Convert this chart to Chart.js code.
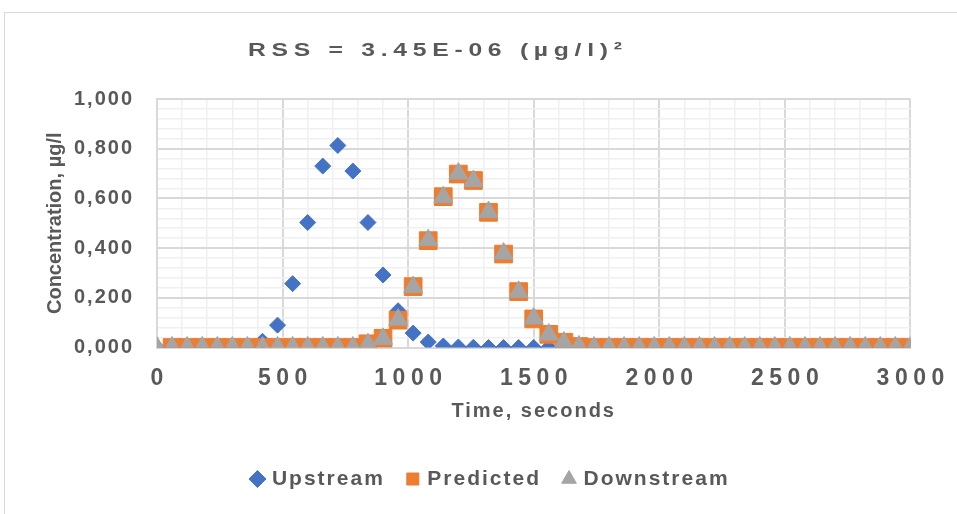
<!DOCTYPE html>
<html>
<head>
<meta charset="utf-8">
<title>RSS chart</title>
<script src="https://cdn.jsdelivr.net/npm/chart.js@4.4.1/dist/chart.umd.min.js"></script>
<style>
  html, body { margin: 0; padding: 0; background: #fff; overflow: hidden; }
  #frame { position: absolute; left: 4px; top: 12px; width: 1000px; height: 600px;
           border-left: 1px solid #d9d9d9; border-top: 1px solid #d9d9d9; }
  #chart { position: absolute; left: 0; top: 0; }
</style>
</head>
<body>
<div id="frame"></div>
<canvas id="chart" width="957" height="514"></canvas>
<script>
// Data
const titleText = "RSS = 3.45E-06 (\u00b5g/l)\u00b2";

// Time, seconds
const times = [0, 60, 120, 180, 240, 300, 360, 420, 480, 540,
               600, 660, 720, 780, 840, 900, 960, 1020, 1080, 1140,
               1200, 1260, 1320, 1380, 1440, 1500, 1560, 1620, 1680, 1740,
               1800, 1860, 1920, 1980, 2040, 2100, 2160, 2220, 2280, 2340,
               2400, 2460, 2520, 2580, 2640, 2700, 2760, 2820, 2880, 2940, 3000];

// Concentration, µg/l
const upstream = [0, 0, 0, 0, 0, 0, 0, 0.025, 0.09, 0.257,
                  0.503, 0.73, 0.813, 0.71, 0.503, 0.292, 0.148, 0.058, 0.022, 0.006,
                  0.002, 0.001, 0, 0, 0, 0, 0, 0, 0, 0,
                  0, 0, 0, 0, 0, 0, 0, 0, 0, 0,
                  0, 0, 0, 0, 0, 0, 0, 0, 0, 0, 0];

const predicted = [null, 0, 0, 0, 0, 0, 0, 0, 0, 0,
                   0, 0, 0, 0, 0.015, 0.037, 0.11, 0.245, 0.43, 0.607,
                   0.698, 0.672, 0.544, 0.376, 0.225, 0.115, 0.053, 0.021, 0.004, 0,
                   0, 0, 0, 0, 0, 0, 0, 0, 0, 0,
                   0, 0, 0, 0, 0, 0, 0, 0, 0, 0, 0];

const downstream = [0, 0, 0, 0, 0, 0, 0, 0, 0, 0,
                    0, 0, 0, 0, 0.013, 0.035, 0.112, 0.243, 0.432, 0.605,
                    0.7, 0.67, 0.545, 0.378, 0.224, 0.117, 0.052, 0.02, 0.004, 0,
                    0, 0, 0, 0, 0, 0, 0, 0, 0, 0,
                    0, 0, 0, 0, 0, 0, 0, 0, 0, 0, 0];

// Labelled (major) ticks
const xMajor = [0, 500, 1000, 1500, 2000, 2500, 3000];
const yMajor = [0, 0.2, 0.4, 0.6, 0.8, 1];

const TEXT = "#595959";
const FONT = "'Liberation Sans', Arial, sans-serif";
const MAJOR = "#d9d9d9";
const MINOR = "#f0f0f0";

const isMajorX = v => xMajor.includes(v);
const isMajorY = v => yMajor.some(m => Math.abs(m - v) < 1e-9);

function pts(values) {
    return times.map((t, i) => ({ x: t, y: values[i] })).filter(p => p.y !== null);
}

// Excel-like expanded character spacing on some texts
const textSpacing = {
    id: "textSpacing",
    beforeLayout(chart) {
        chart.ctx.letterSpacing = "2px";
    },
    beforeDraw(chart) {
        chart.ctx.letterSpacing = "2px";
        const { x, y } = chart.scales;
        if (!x._spaced) {
            const drawLabels = x.drawLabels;
            x.drawLabels = function (area) {
                this.ctx.save();
                this.ctx.letterSpacing = "5.5px";
                this.ctx.translate(2.75, 0);
                drawLabels.call(this, area);
                this.ctx.restore();
            };
            x._spaced = true;
        }
        if (!y._spaced) {
            const drawTitle = y.drawTitle;
            y.drawTitle = function () {
                this.ctx.save();
                this.ctx.letterSpacing = "0px";
                drawTitle.call(this);
                this.ctx.restore();
            };
            y._spaced = true;
        }
    }
};

// Chart title, stretched and spaced out like the original
const rssTitle = {
    id: "rssTitle",
    afterDraw(chart) {
        const ctx = chart.ctx;
        ctx.save();
        ctx.translate(435, 51);
        ctx.scale(1.3, 1);
        ctx.letterSpacing = "4.4px";
        ctx.font = "bold 19px " + FONT;
        ctx.fillStyle = TEXT;
        ctx.textAlign = "center";
        ctx.textBaseline = "middle";
        ctx.fillText(titleText, 2.2, 0);
        ctx.restore();
    }
};

const ctx = document.getElementById("chart");
new Chart(ctx, {
    type: "scatter",
    data: {
        datasets: [
            {
                label: "Upstream", data: pts(upstream), order: 2,
                pointStyle: "rectRot", pointRadius: 8, pointBorderWidth: 1,
                backgroundColor: "#4472C4", borderColor: "#4472C4"
            },
            {
                label: "Predicted", data: pts(predicted), order: 1,
                pointStyle: "rect", pointRadius: 12.5, pointBorderWidth: 1,
                backgroundColor: "#ED7D31", borderColor: "#ED7D31"
            },
            {
                label: "Downstream", data: pts(downstream), order: 0,
                pointStyle: "triangle", pointRadius: 11, pointBorderWidth: 1,
                backgroundColor: "#A5A5A5", borderColor: "#A5A5A5"
            }
        ]
    },
    options: {
        responsive: false,
        animation: false,
        events: [],
        layout: { padding: { top: 99, left: 71, right: 45, bottom: 14.5 } },
        plugins: {
            title: { display: false },
            tooltip: { enabled: false },
            legend: {
                position: "bottom",
                labels: {
                    usePointStyle: true,
                    boxWidth: 8,
                    boxHeight: 12,
                    padding: 24,
                    color: TEXT,
                    font: { family: FONT, size: 21, weight: "bold" },
                    sort: (a, b) => a.datasetIndex - b.datasetIndex
                }
            }
        },
        scales: {
            x: {
                type: "linear",
                min: 0,
                max: 3000,
                ticks: {
                    stepSize: 100,
                    autoSkip: false,
                    maxRotation: 0,
                    padding: 17,
                    color: TEXT,
                    font: { family: FONT, size: 23, weight: "bold" },
                    callback: v => isMajorX(v) ? String(v) : ""
                },
                grid: {
                    drawTicks: false,
                    color: c => isMajorX(c.tick.value) ? MAJOR : MINOR,
                    lineWidth: c => isMajorX(c.tick.value) ? 2 : 1.5
                },
                border: { color: MAJOR, width: 2 },
                title: {
                    display: true,
                    text: "Time, seconds",
                    color: TEXT,
                    font: { family: FONT, size: 20, weight: "bold" },
                    padding: { top: 0, bottom: 21.5 }
                },
                afterFit: s => { s.height = 97; }
            },
            y: {
                min: 0,
                max: 1,
                ticks: {
                    stepSize: 0.04,
                    autoSkip: false,
                    padding: 23,
                    color: TEXT,
                    font: { family: FONT, size: 20, weight: "bold" },
                    callback: v => isMajorY(v) ? v.toFixed(3).replace(".", ",") : ""
                },
                grid: {
                    drawTicks: false,
                    color: c => isMajorY(c.tick.value) ? MAJOR : MINOR,
                    lineWidth: c => isMajorY(c.tick.value) ? 2 : 1.5
                },
                border: { color: MAJOR, width: 2 },
                title: {
                    display: true,
                    text: "Concentration, \u00b5g/l",
                    color: TEXT,
                    font: { family: FONT, size: 20, weight: "bold" },
                    padding: { top: -28, bottom: 0 }
                },
                afterFit: s => { s.width = 86; }
            }
        }
    },
    plugins: [textSpacing, rssTitle]
});
</script>
</body>
</html>
